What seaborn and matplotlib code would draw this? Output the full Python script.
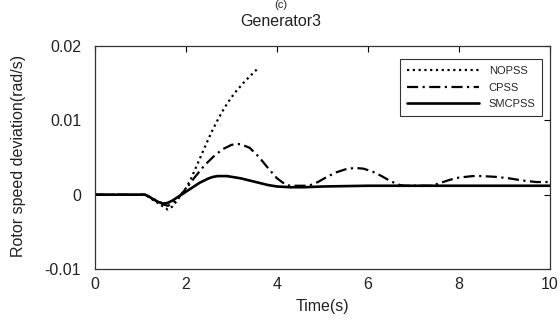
import matplotlib
matplotlib.use("Agg")
import matplotlib.pyplot as plt
import seaborn as sns

# ---- data ----
t_nopss = [0, 1.1, 1.3, 1.5, 1.6, 1.7, 1.8, 1.9, 2.0, 2.1, 2.2, 2.3, 2.4, 2.5, 2.6,
           2.7, 2.8, 2.9, 3.0, 3.1, 3.2, 3.3, 3.4, 3.5, 3.58]
y_nopss = [0, 0, -0.0008, -0.0016, -0.002, -0.0016, -0.0008, 0.0, 0.0009, 0.002,
           0.0034, 0.0048, 0.0062, 0.0076, 0.0089, 0.0101, 0.0112, 0.0122, 0.0131,
           0.0139, 0.0146, 0.0153, 0.0159, 0.0165, 0.0170]

t_cpss = [0, 1.1, 1.3, 1.5, 1.6, 1.7, 1.8, 1.9, 2.0, 2.2, 2.4, 2.6, 2.8, 3.0, 3.1,
          3.2, 3.4, 3.6, 3.8, 4.0, 4.2, 4.3, 4.7, 4.9, 5.1, 5.3, 5.5, 5.7, 5.9,
          6.1, 6.3, 6.5, 6.7, 6.8, 7.4, 7.6, 7.8, 8.0, 8.3, 8.5, 8.8, 9.1, 9.4,
          9.7, 10]
y_cpss = [0, 0, -0.0006, -0.0013, -0.0015, -0.0012, -0.0006, 0.0001, 0.0008, 0.0024,
          0.0039, 0.0051, 0.0061, 0.0067, 0.0068, 0.0068, 0.0063, 0.0051, 0.0036,
          0.0022, 0.0013, 0.0012, 0.0012, 0.0017, 0.0024, 0.0030, 0.0034, 0.0036,
          0.0035, 0.0031, 0.0025, 0.0018, 0.0013, 0.0012, 0.0012, 0.0016, 0.0020,
          0.0023, 0.0025, 0.0025, 0.0024, 0.0022, 0.0019, 0.0017, 0.0017]

t_smc = [0, 1.1, 1.2, 1.3, 1.4, 1.5, 1.6, 1.7, 1.8, 1.9, 2.0, 2.1, 2.2, 2.3, 2.4,
         2.5, 2.6, 2.7, 2.8, 2.9, 3.0, 3.2, 3.4, 3.6, 3.8, 4.0, 4.3, 4.6, 5.0, 6.0, 10]
y_smc = [0, 0, -0.0003, -0.0007, -0.001, -0.0012, -0.0011, -0.0008, -0.0004, 0.0,
         0.0004, 0.0008, 0.0012, 0.0016, 0.0019, 0.0022, 0.0024, 0.0025, 0.0025,
         0.0025, 0.0024, 0.0022, 0.0019, 0.0016, 0.0013, 0.0011, 0.0010, 0.0010,
         0.0011, 0.0012, 0.0012]

series_names = ["NOPSS", "CPSS", "SMCPSS"]
x_ticks = [0, 2, 4, 6, 8, 10]
y_ticks = [-0.01, 0, 0.01, 0.02]
y_ticklabels = ["-0.01", "0", "0.01", "0.02"]

sns.set_theme(style="white")
plt.rcParams["font.family"] = ["Liberation Sans", "DejaVu Sans"]

W, H = 560, 330
fig = plt.figure(figsize=(5.6, 3.3), dpi=100)
ax = fig.add_axes([95 / W, 1 - 269 / H, 455 / W, 223 / H])

sns.lineplot(x=t_nopss, y=y_nopss, ax=ax, color="black", linewidth=1.6,
             linestyle=(0, (1.0, 1.6)), label=series_names[0])
sns.lineplot(x=t_cpss, y=y_cpss, ax=ax, color="black", linewidth=1.6,
             linestyle=(0, (5, 2, 1, 2)), label=series_names[1])
sns.lineplot(x=t_smc, y=y_smc, ax=ax, color="black", linewidth=1.9,
             linestyle="-", label=series_names[2])

txt = "#222222"
ax.set_xlim(0, 10)
ax.set_ylim(-0.01, 0.02)
ax.set_xticks(x_ticks)
ax.set_xticklabels([str(v) for v in x_ticks])
ax.set_yticks(y_ticks)
ax.set_yticklabels(y_ticklabels)
ax.tick_params(direction="in", top=True, right=True, length=4, width=0.8,
               labelsize=11.5, colors="black", labelcolor=txt)
ax.tick_params(axis="x", pad=6)
ax.tick_params(axis="y", pad=10)
for s in ax.spines.values():
    s.set_color("#333333")
    s.set_linewidth(0.9)

ax.set_xlabel("Time(s)", fontsize=11.5, color=txt, labelpad=5)
ax.set_ylabel("")
fig.text(19 / W, 1 - 156 / H, "Rotor speed deviation(rad/s)", rotation=90,
         ha="center", va="center", fontsize=11.5, color=txt)
fig.text(281 / W, 1 - 21.5 / H, "Generator3", ha="center", va="center",
         fontsize=11.5, color=txt)
fig.text(281 / W, 1.0, "(c)", ha="center", va="top", fontsize=8, color=txt)

leg = ax.legend(loc="upper right", bbox_to_anchor=(0.983, 0.94), fontsize=8,
                frameon=True, fancybox=False, edgecolor="black", handlelength=6.5,
                borderpad=0.6, labelspacing=0.6, handletextpad=0.9,
                borderaxespad=0)
leg.get_frame().set_linewidth(0.8)

fig.savefig("out.png", dpi=100)
